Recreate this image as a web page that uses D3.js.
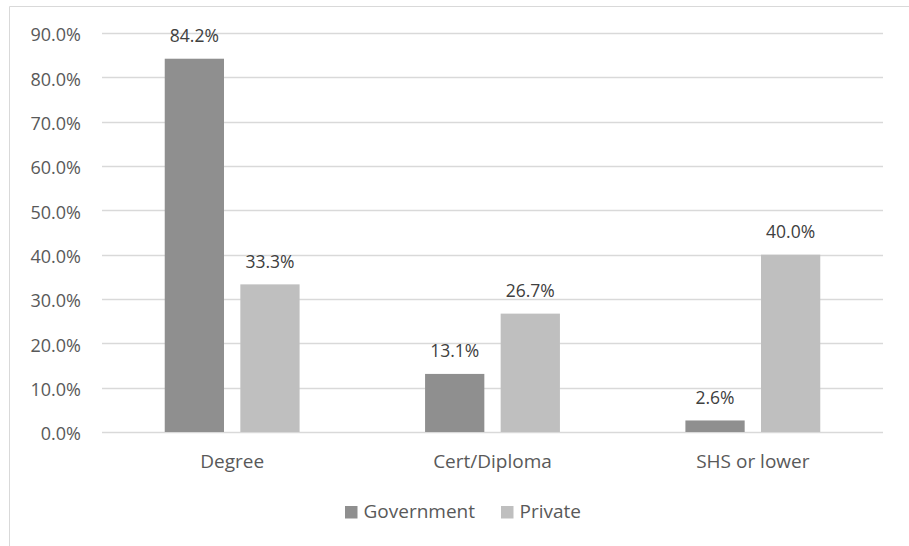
<!DOCTYPE html>
<html>
<head>
<meta charset="utf-8">
<script src="https://cdn.jsdelivr.net/npm/d3@7"></script>
<style>
  html, body { margin: 0; padding: 0; background: #fff; }
  svg { display: block; font-family: "Open Sans", "Noto Sans", sans-serif; }
</style>
</head>
<body>
<svg id="chart" width="909" height="546"></svg>
<script>
// Education level by employer sector (share of respondents)
const categories = ["Degree", "Cert/Diploma", "SHS or lower"];
const seriesNames = ["Government", "Private"];
const government = [84.2, 13.1, 2.6];
const privateSector = [33.3, 26.7, 40.0];
const yTicks = [0, 10, 20, 30, 40, 50, 60, 70, 80, 90];

const colors = { Government: "#8f8f8f", Private: "#bfbfbf" };
const textColor = "#595959";
const labelColor = "#404040";
const gridColor = "#d9d9d9";
const fontFamily = "'Open Sans', 'Noto Sans', sans-serif";

const svg = d3.select("#chart");
const W = 909, H = 546;

// outer chart frame (left and top edges)
svg.append("path")
  .attr("d", `M9.5,${H} V6.5 H${W}`)
  .attr("fill", "none")
  .attr("stroke", gridColor)
  .attr("stroke-width", 1);

const plot = { left: 102, right: 883, top: 33, bottom: 432 };

const x = d3.scaleBand()
  .domain(categories)
  .range([plot.left, plot.right])
  .paddingInner(0)
  .paddingOuter(0);

const xSeries = d3.scaleBand()
  .domain(seriesNames)
  .range([0, x.bandwidth()])
  .paddingInner(0.216)
  .paddingOuter(0.83);

const y = d3.scaleLinear()
  .domain([0, 90])
  .range([plot.bottom, plot.top]);

// horizontal gridlines
svg.append("g")
  .selectAll("line")
  .data(yTicks)
  .join("line")
  .attr("x1", plot.left)
  .attr("x2", plot.right)
  .attr("y1", d => Math.round(y(d)) + 0.5)
  .attr("y2", d => Math.round(y(d)) + 0.5)
  .attr("stroke", gridColor)
  .attr("stroke-width", 1.3);

// y axis labels
const yAxis = d3.axisLeft(y)
  .tickValues(yTicks)
  .tickFormat(d => d.toFixed(1) + "%")
  .tickSize(0)
  .tickPadding(0);

const gy = svg.append("g")
  .attr("transform", `translate(81,0)`)
  .call(yAxis);
gy.select(".domain").remove();
gy.selectAll("text")
  .attr("dy", "0.43em")
  .attr("fill", textColor)
  .attr("font-size", 18)
  .attr("font-family", fontFamily);

// x axis labels
const xAxis = d3.axisBottom(x).tickSize(0).tickPadding(0);
const gx = svg.append("g")
  .attr("transform", `translate(0,${plot.bottom})`)
  .call(xAxis);
gx.select(".domain").remove();
gx.selectAll("text")
  .attr("y", 35.5)
  .attr("dy", null)
  .attr("fill", textColor)
  .attr("font-size", 19)
  .attr("font-family", fontFamily);

// bars
const rows = categories.map((c, i) => ({
  category: c,
  values: [
    { series: "Government", value: government[i] },
    { series: "Private", value: privateSector[i] }
  ]
}));

const groups = svg.append("g")
  .selectAll("g")
  .data(rows)
  .join("g")
  .attr("transform", d => `translate(${x(d.category)},0)`);

groups.selectAll("rect")
  .data(d => d.values)
  .join("rect")
  .attr("x", d => xSeries(d.series))
  .attr("width", xSeries.bandwidth())
  .attr("y", d => y(d.value))
  .attr("height", d => y(0) - y(d.value))
  .attr("fill", d => colors[d.series]);

// value labels
groups.selectAll("text")
  .data(d => d.values)
  .join("text")
  .attr("x", d => xSeries(d.series) + xSeries.bandwidth() / 2)
  .attr("y", d => y(d.value) - 16.5)
  .attr("text-anchor", "middle")
  .attr("fill", labelColor)
  .attr("font-size", 17.5)
  .attr("font-family", fontFamily)
  .text(d => d.value.toFixed(1) + "%");

// legend
const legendItems = [
  { name: "Government", x: 345 },
  { name: "Private", x: 501 }
];
const legend = svg.append("g")
  .selectAll("g")
  .data(legendItems)
  .join("g")
  .attr("transform", d => `translate(${d.x},0)`);
legend.append("rect")
  .attr("y", 506)
  .attr("width", 12.5)
  .attr("height", 12.5)
  .attr("fill", d => colors[d.name]);
legend.append("text")
  .attr("x", 18.5)
  .attr("y", 517.5)
  .attr("fill", textColor)
  .attr("font-size", 19)
  .attr("font-family", fontFamily)
  .text(d => d.name);
</script>
</body>
</html>
